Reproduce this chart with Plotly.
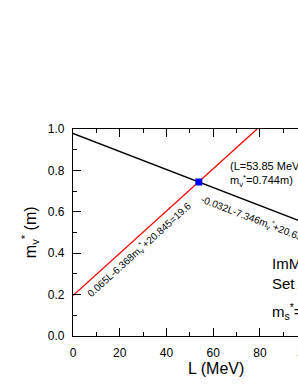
import plotly.graph_objects as go

# data
black_L = [0, 100]
black_m = [0.9786, 0.543]
red_L = [0, 78.8]
red_m = [0.1955, 1.0]
cross_L = [53.85]
cross_m = [0.744]

FONT = "Liberation Sans, Arial, sans-serif"

# plot-area geometry in page pixels
X0, X1 = 73.3, 298.0
Y0, Y1 = 129.0, 336.0
W, H = X1 - X0, Y1 - Y0
FIG_W, FIG_H = 298, 385
def px(x):
    return (x - X0) / W
def py(y):
    return (Y1 - y) / H

fig = go.Figure()
fig.add_trace(go.Scatter(x=black_L, y=black_m, mode="lines",
                         line=dict(color="black", width=1.3), showlegend=False))
fig.add_trace(go.Scatter(x=red_L, y=red_m, mode="lines",
                         line=dict(color="#ff0000", width=1.3), showlegend=False))
fig.add_trace(go.Scatter(x=cross_L, y=cross_m, mode="markers",
                         marker=dict(symbol="square", color="#0000ff", size=7,
                                     line=dict(width=0)), showlegend=False))

axis_common = dict(showline=True, linecolor="black", linewidth=1.3,
                   ticks="inside", ticklen=8, tickwidth=1.3, tickcolor="black",
                   showgrid=False, zeroline=False,
                   tickfont=dict(family=FONT, size=12, color="black"))

fig.update_xaxes(range=[0, 96.3], tick0=0, dtick=20, mirror="ticks",
                 minor=dict(dtick=10, ticks="inside", ticklen=4, tickwidth=1.3,
                            tickcolor="black", showgrid=False),
                 ticklabelstandoff=5, **axis_common)
fig.update_yaxes(range=[0, 1.0], tick0=0, dtick=0.2, tickformat=".1f", mirror=False,
                 minor=dict(dtick=0.1, ticks="inside", ticklen=4, tickwidth=1.3,
                            tickcolor="black", showgrid=False),
                 ticklabelstandoff=5, **axis_common)

def ann(x, y, text, size, xref="paper", yref="paper", xanchor="center",
        yanchor="middle", **kw):
    return dict(x=x, y=y, xref=xref, yref=yref, xanchor=xanchor, yanchor=yanchor,
                text=text, font=dict(family=FONT, size=size, color="black"),
                showarrow=False, **kw)

anns = [
    ann(px(215.7), py(368), "L (MeV)", 16),
    ann(px(30), 0.5, "m<sub>v</sub><sup>*</sup> (m)", 16, textangle=-90),
    ann(px(228.3), py(174), "(L=53.85 MeV,<br>m<sub>v</sub><sup>*</sup>=0.744m)", 11,
        xanchor="left", align="left"),
    ann(28.2, 0.420, "0.065L-6.368m<sub>v</sub><sup>*</sup>+20.845=19.6", 10,
        xref="x", yref="y", textangle=-42),
    ann(82.8, 0.544, "-0.032L-7.346m<sub>v</sub><sup>*</sup>+20.63=13.44", 10,
        xref="x", yref="y", textangle=21),
    ann(px(270), py(263), "ImMDI", 15, xanchor="left"),
    ann(px(270), py(283), "Set A", 15, xanchor="left"),
    ann(px(270), py(311), "m<sub>s</sub><sup>*</sup>=0.7m", 15, xanchor="left"),
    ann(100 / 96.3, py(352), "100", 12),
]
fig.update_layout(annotations=anns)

fig.update_layout(width=FIG_W, height=FIG_H,
                  margin=dict(l=X0, r=0, t=Y0, b=FIG_H - Y1, autoexpand=False),
                  paper_bgcolor="white", plot_bgcolor="white",
                  font=dict(family=FONT, color="black"))

fig.write_html("out.html", config={"displayModeBar": False},
               post_script="document.body.style.margin='0';"
                           "document.documentElement.style.overflow='hidden';"
                           "document.body.style.overflow='hidden';")
